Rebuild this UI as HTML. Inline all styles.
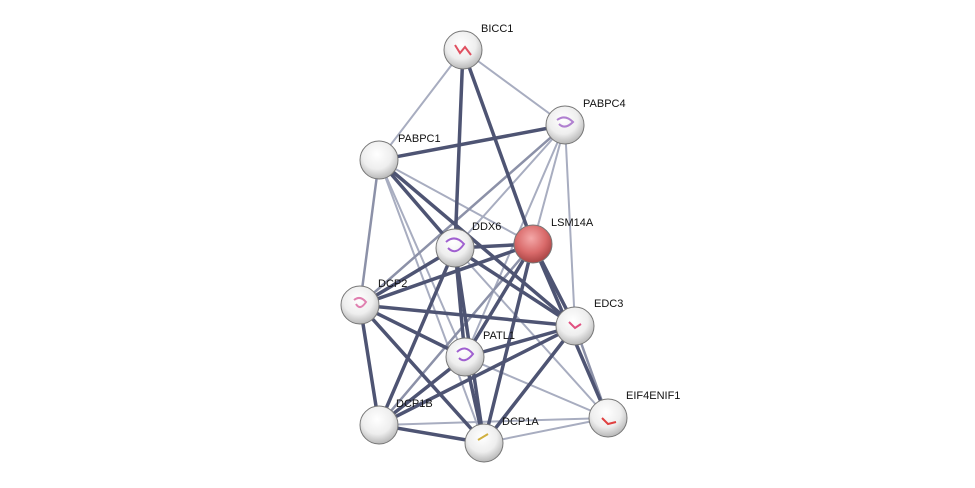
<!DOCTYPE html>
<html><head><meta charset="utf-8"><style>
html,body{margin:0;padding:0;background:#fff;}
svg{display:block;}
text{font-family:"Liberation Sans",sans-serif;font-size:11px;fill:#111;}
</style></head><body>
<svg width="975" height="488" viewBox="0 0 975 488" xmlns="http://www.w3.org/2000/svg">
<defs>
<radialGradient id="w" cx="45%" cy="35%" r="65%">
<stop offset="0" stop-color="#ffffff"/><stop offset="0.6" stop-color="#eeeeee"/><stop offset="1" stop-color="#b8b8b8"/></radialGradient>
<radialGradient id="r" cx="45%" cy="35%" r="65%">
<stop offset="0" stop-color="#f4a8a8"/><stop offset="0.6" stop-color="#d96a6a"/><stop offset="1" stop-color="#a84444"/></radialGradient>
</defs>
<g stroke-linecap="round">
<!-- light edges -->
<g stroke="#a8adc0" stroke-width="2">
<line x1="463" y1="50" x2="379" y2="160"/>
<line x1="463" y1="50" x2="565" y2="125"/>
<line x1="565" y1="125" x2="455" y2="248"/>
<line x1="565" y1="125" x2="533" y2="244"/>
<line x1="565" y1="125" x2="575" y2="326"/>
<line x1="565" y1="125" x2="465" y2="357"/>
<line x1="379" y1="160" x2="533" y2="244"/>
<line x1="379" y1="160" x2="465" y2="357"/>
<line x1="379" y1="160" x2="484" y2="443"/>
<line x1="465" y1="357" x2="608" y2="418"/>
<line x1="379" y1="425" x2="608" y2="418"/>
<line x1="484" y1="443" x2="608" y2="418"/>
<line x1="455" y1="248" x2="608" y2="418"/>
</g>
<g stroke="#8c91a8" stroke-width="2.5">
<line x1="379" y1="160" x2="360" y2="305"/>
<line x1="565" y1="125" x2="360" y2="305"/>
<line x1="575" y1="326" x2="608" y2="418"/>
<line x1="533" y1="244" x2="379" y2="425"/>
</g>
<!-- dark edges -->
<g stroke="#4e5473" stroke-width="3.5">
<line x1="463" y1="50" x2="455" y2="248"/>
<line x1="463" y1="50" x2="533" y2="244"/>
<line x1="565" y1="125" x2="379" y2="160"/>
<line x1="379" y1="160" x2="455" y2="248"/>
<line x1="379" y1="160" x2="575" y2="326"/>
<line x1="455" y1="248" x2="533" y2="244"/>
<line x1="455" y1="248" x2="360" y2="305"/>
<line x1="455" y1="248" x2="575" y2="326"/>
<line x1="455" y1="248" x2="465" y2="357"/>
<line x1="455" y1="248" x2="379" y2="425"/>
<line x1="455" y1="248" x2="484" y2="443"/>
<line x1="533" y1="244" x2="360" y2="305"/>
<line x1="533" y1="244" x2="575" y2="326"/>
<line x1="533" y1="244" x2="465" y2="357"/>
<line x1="533" y1="244" x2="484" y2="443"/>
<line x1="533" y1="244" x2="608" y2="418"/>
<line x1="360" y1="305" x2="575" y2="326"/>
<line x1="360" y1="305" x2="465" y2="357"/>
<line x1="360" y1="305" x2="379" y2="425"/>
<line x1="360" y1="305" x2="484" y2="443"/>
<line x1="575" y1="326" x2="465" y2="357"/>
<line x1="575" y1="326" x2="379" y2="425"/>
<line x1="575" y1="326" x2="484" y2="443"/>
<line x1="465" y1="357" x2="379" y2="425"/>
<line x1="465" y1="357" x2="484" y2="443"/>
<line x1="379" y1="425" x2="484" y2="443"/>
</g>
</g>
<g stroke="#777" stroke-width="1">
<circle cx="463" cy="50" r="19" fill="url(#w)"/>
<circle cx="565" cy="125" r="19" fill="url(#w)"/>
<circle cx="379" cy="160" r="19" fill="url(#w)"/>
<circle cx="455" cy="248" r="19" fill="url(#w)"/>
<circle cx="533" cy="244" r="19" fill="url(#r)"/>
<circle cx="360" cy="305" r="19" fill="url(#w)"/>
<circle cx="575" cy="326" r="19" fill="url(#w)"/>
<circle cx="465" cy="357" r="19" fill="url(#w)"/>
<circle cx="379" cy="425" r="19" fill="url(#w)"/>
<circle cx="484" cy="443" r="19" fill="url(#w)"/>
<circle cx="608" cy="418" r="19" fill="url(#w)"/>
</g>
<g fill="none" stroke-width="2">
<path d="M455 45 l5 8 l5 -6 l6 8" stroke="#e05060"/>
<path d="M557 120 q8 -6 16 2 q-8 8 -14 2" stroke="#b080d0"/>
<path d="M446 242 q9 -8 18 2 q-8 12 -16 4" stroke="#a060d0"/>
<path d="M354 300 q6 -5 12 2 q-6 9 -10 2" stroke="#e080b0"/>
<path d="M569 322 l6 6 l6 -4" stroke="#e05080"/>
<path d="M457 352 q8 -8 16 2 q-8 10 -14 4" stroke="#a060d0"/>
<path d="M478 440 l10 -6" stroke="#d0b040"/>
<path d="M602 418 l6 6 l8 -2" stroke="#e04040"/>
</g>
<text x="481" y="32">BICC1</text>
<text x="583" y="107">PABPC4</text>
<text x="398" y="142">PABPC1</text>
<text x="472" y="230">DDX6</text>
<text x="551" y="226">LSM14A</text>
<text x="378" y="287">DCP2</text>
<text x="594" y="307">EDC3</text>
<text x="483" y="339">PATL1</text>
<text x="396" y="407">DCP1B</text>
<text x="502" y="425">DCP1A</text>
<text x="626" y="399">EIF4ENIF1</text>
</svg>
</body></html>
